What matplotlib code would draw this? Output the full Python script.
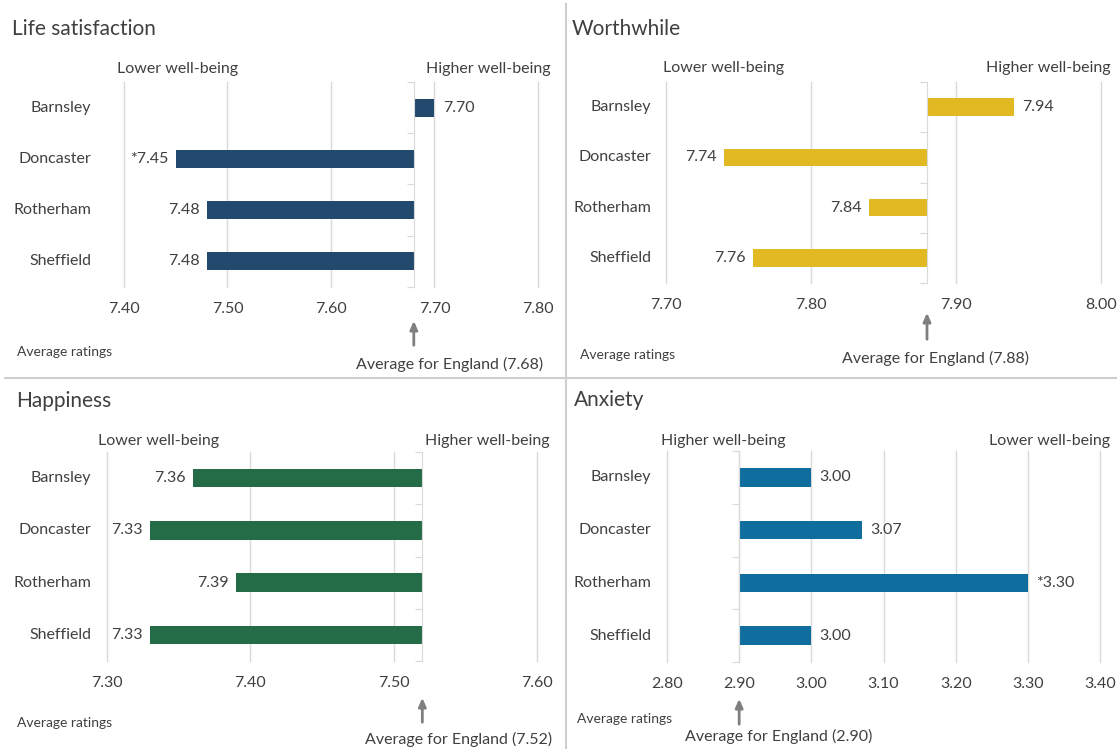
import matplotlib.pyplot as plt
import matplotlib.transforms as mtransforms
from matplotlib.lines import Line2D
import numpy as np

W, H = 1117, 749
plt.rcParams['font.family'] = ['Lato', 'DejaVu Sans']

TEXT = '#404040'
GRID = '#d9d9d9'
FS = 11.5

areas = ['Barnsley', 'Doncaster', 'Rotherham', 'Sheffield']

life_values = [7.70, 7.45, 7.48, 7.48]
life_labels = ['7.70', '*7.45', '7.48', '7.48']
life_england = 7.68
life_ticks = [7.40, 7.50, 7.60, 7.70, 7.80]

worth_values = [7.94, 7.74, 7.84, 7.76]
worth_labels = ['7.94', '7.74', '7.84', '7.76']
worth_england = 7.88
worth_ticks = [7.70, 7.80, 7.90, 8.00]

happy_values = [7.36, 7.33, 7.39, 7.33]
happy_labels = ['7.36', '7.33', '7.39', '7.33']
happy_england = 7.52
happy_ticks = [7.30, 7.40, 7.50, 7.60]

anx_values = [3.00, 3.07, 3.30, 3.00]
anx_labels = ['3.00', '3.07', '*3.30', '3.00']
anx_england = 2.90
anx_ticks = [2.80, 2.90, 3.00, 3.10, 3.20, 3.30, 3.40]


def fx(px):
    return px / W


def fy(py):
    return 1 - py / H


fig = plt.figure(figsize=(W / 100, H / 100), dpi=100)


def panel(box, title, values, labels, england, ticks, color, lay):
    l, t, r, b = box
    ax = fig.add_axes([fx(l), fy(b), fx(r) - fx(l), fy(t) - fy(b)])
    y = np.arange(len(areas))
    widths = [v - england for v in values]
    ax.barh(y, widths, left=england, height=0.35, color=color, zorder=3)
    for yi, v, lab in zip(y, values, labels):
        if v >= england:
            ax.annotate(lab, (v, yi), xytext=(6, 0), textcoords='offset points',
                        ha='left', va='center', fontsize=FS, color=TEXT)
        else:
            ax.annotate(lab, (v, yi), xytext=(-5, 0), textcoords='offset points',
                        ha='right', va='center', fontsize=FS, color=TEXT)
    ax.set_xlim(ticks[0], ticks[-1])
    ax.set_ylim(3.5, -0.5)
    ax.set_xticks(ticks)
    ax.set_xticklabels(['%.2f' % v for v in ticks], fontsize=FS, color=TEXT)
    ax.tick_params(axis='x', length=0, pad=11)
    ax.grid(axis='x', color=GRID, linewidth=1, zorder=0)
    for gl in ax.get_xgridlines():
        gl.set_clip_on(False)
    ax.set_yticks(np.arange(-0.5, 4, 1))
    ax.tick_params(axis='y', length=5, color=GRID, labelleft=False, direction='out')
    for s in ['top', 'right', 'bottom']:
        ax.spines[s].set_visible(False)
    ax.spines['left'].set_position(('data', england))
    ax.spines['left'].set_color(GRID)
    ax.spines['left'].set_zorder(4)

    # category labels
    tr = mtransforms.blended_transform_factory(fig.transFigure, ax.transData)
    for yi, name in zip(y, areas):
        fig.text(fx(lay['cat_x']), yi, name, transform=tr, ha='right', va='center',
                 fontsize=FS, color=TEXT)

    fig.text(fx(lay['title'][0]), fy(lay['title'][1]), title, ha='left', va='center',
             fontsize=15, color=TEXT)
    fig.text(fx(lay['left_hdr'][0]), fy(lay['left_hdr'][1]), lay['left_txt'],
             ha='center', va='center', fontsize=FS, color=TEXT)
    fig.text(fx(lay['right_hdr'][0]), fy(lay['right_hdr'][1]), lay['right_txt'],
             ha='center', va='center', fontsize=FS, color=TEXT)
    fig.text(fx(lay['note'][0]), fy(lay['note'][1]), 'Average ratings',
             ha='left', va='center', fontsize=10, color=TEXT)
    fig.text(fx(lay['avg'][0]), fy(lay['avg'][1]),
             'Average for England (%.2f)' % england,
             ha='center', va='center', fontsize=FS, color=TEXT)

    atr = mtransforms.blended_transform_factory(ax.transData, fig.transFigure)
    ax.annotate('', xy=(england, fy(lay['arrow'][0])), xycoords=atr,
                xytext=(england, fy(lay['arrow'][1])), textcoords=atr,
                arrowprops=dict(arrowstyle='-|>,head_length=0.5,head_width=0.22',
                                color='#7f7f7f', lw=2), annotation_clip=False)
    return ax


panel((124, 82, 538, 287), 'Life satisfaction', life_values, life_labels,
      life_england, life_ticks, '#234a6e',
      dict(cat_x=91, title=(12, 29), left_hdr=(178, 69), right_hdr=(488, 69),
           left_txt='Lower well-being', right_txt='Higher well-being',
           note=(17, 352), avg=(450, 364), arrow=(318, 348)))

panel((666, 82, 1101, 283), 'Worthwhile', worth_values, worth_labels,
      worth_england, worth_ticks, '#e2b922',
      dict(cat_x=651, title=(572, 29), left_hdr=(724, 68), right_hdr=(1048, 68),
           left_txt='Lower well-being', right_txt='Higher well-being',
           note=(580, 355), avg=(936, 358), arrow=(310, 342)))

panel((107, 452, 537, 661), 'Happiness', happy_values, happy_labels,
      happy_england, happy_ticks, '#246b47',
      dict(cat_x=91, title=(16, 401), left_hdr=(159, 441), right_hdr=(487, 441),
           left_txt='Lower well-being', right_txt='Higher well-being',
           note=(17, 723), avg=(459, 739), arrow=(695, 725)))

panel((667, 451, 1100, 662), 'Anxiety', anx_values, anx_labels,
      anx_england, anx_ticks, '#0f6e9e',
      dict(cat_x=651, title=(574, 400), left_hdr=(723, 441), right_hdr=(1050, 441),
           left_txt='Higher well-being', right_txt='Lower well-being',
           note=(577, 719), avg=(779, 736), arrow=(696, 727)))

# panel dividers
fig.add_artist(Line2D([fx(5), fx(1117)], [fy(378), fy(378)], color='#cfcfcf', lw=1.5))
fig.add_artist(Line2D([fx(566), fx(566)], [fy(4), fy(749)], color='#cfcfcf', lw=1.5))

fig.savefig('out.png', dpi=100, facecolor='white')
